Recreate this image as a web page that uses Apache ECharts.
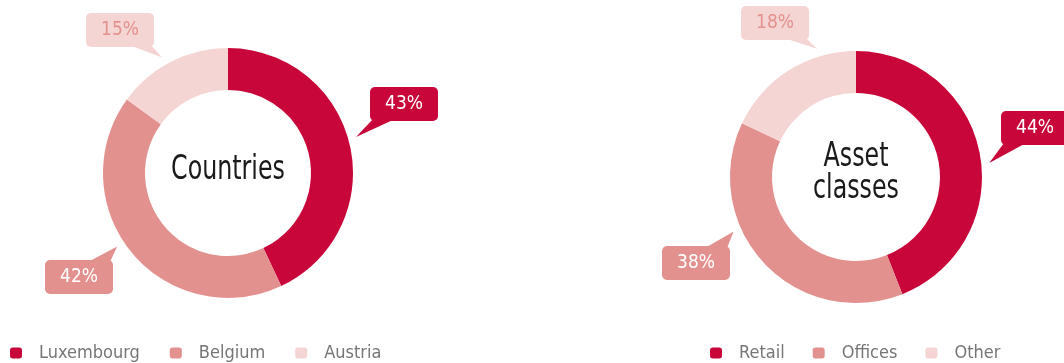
<!DOCTYPE html>
<html>
<head>
<meta charset="utf-8">
<script src="https://cdn.jsdelivr.net/npm/echarts@6/dist/echarts.min.js"></script>
<style>
  html, body { margin: 0; padding: 0; background: #ffffff; }
  #chart { width: 1064px; height: 363px; }
</style>
</head>
<body>
<div id="chart"></div>
<script>
// Portfolio breakdown (% of total)
const countries = ['Luxembourg', 'Belgium', 'Austria'];
const countryShares = [43, 42, 15];
const assetClasses = ['Retail', 'Offices', 'Other'];
const assetShares = [44, 38, 18];

const palette = ['#C8063A', '#E3918E', '#F5D5D3'];
const FONT = "'DejaVu Sans Condensed', 'DejaVu Sans', sans-serif";

// centre of each callout box, per series, in data order
const calloutCentres = [
  [[404, 104], [79, 277], [120, 30]],
  [[1035, 128], [696, 263], [775, 23]]
];
// where along its slice's arc each callout's tail points (0 = start, 1 = end)
const tailAlongArc = [
  [0.48, 0.54, 0.45],
  [0.53, 0.64, 0.74]
];

function sliceData(names, values) {
  return names.map(function (name, i) {
    return {
      name: name,
      value: values[i],
      itemStyle: { color: palette[i] },
      label: {
        backgroundColor: palette[i],
        color: i < 2 ? '#ffffff' : palette[1]
      }
    };
  });
}

function donut(name, centre, radius, names, values) {
  return {
    type: 'pie',
    name: name,
    center: centre,
    radius: radius,
    startAngle: 90,
    clockwise: true,
    silent: true,
    avoidLabelOverlap: false,
    emphasis: { disabled: true },
    label: {
      show: true,
      position: 'outside',
      formatter: '{c}%',
      fontFamily: FONT,
      fontSize: 19,
      lineHeight: 22,
      padding: [6, 15, 6, 15],
      borderRadius: 5
    },
    labelLine: { show: false },
    labelLayout: function (params) {
      const p = calloutCentres[params.seriesIndex][params.dataIndex];
      return { x: p[0], y: p[1], align: 'center', verticalAlign: 'middle' };
    },
    data: sliceData(names, values)
  };
}

const legendText = { fontFamily: FONT, fontSize: 18, color: '#767676', padding: [0, 0, 0, 12] };

const chart = echarts.init(document.getElementById('chart'), null, { renderer: 'canvas' });
chart.setOption({
  animation: false,
  legend: [
    {
      data: countries, left: 10, top: 344, padding: 0, itemGap: 30,
      itemWidth: 12, itemHeight: 11, icon: 'roundRect',
      selectedMode: false, textStyle: legendText
    },
    {
      data: assetClasses, left: 710, top: 344, padding: 0, itemGap: 28,
      itemWidth: 12, itemHeight: 11, icon: 'roundRect',
      selectedMode: false, textStyle: legendText
    }
  ],
  series: [
    donut('Countries', [228, 173], [83, 125], countries, countryShares),
    donut('Asset classes', [856, 177], [84, 126], assetClasses, assetShares)
  ]
});

// Centre captions, narrowed horizontally to a condensed look
const captions = [
  { text: 'Countries', x: 228, y: 170 },
  { text: 'Asset\nclasses', x: 856, y: 173 }
].map(function (c) {
  return {
    type: 'text',
    x: c.x, y: c.y, scaleX: 0.8,
    silent: true,
    style: {
      text: c.text, x: 0, y: 0, align: 'center', verticalAlign: 'middle',
      font: "33px 'DejaVu Sans Condensed', sans-serif", lineHeight: 32, fill: '#1a1a1a'
    }
  };
});

// Speech-bubble tails: a triangle from each callout box towards its slice
const tails = [];
const model = chart.getModel();
[0, 1].forEach(function (si) {
  const data = model.getSeriesByIndex(si).getData();
  data.each(function (idx) {
    const sector = data.getItemGraphicEl(idx);
    const label = sector && sector.getTextContent();
    if (!label) return;
    const s = sector.shape;
    const a = s.startAngle + tailAlongArc[si][idx] * (s.endAngle - s.startAngle);
    const tip = [s.cx + Math.cos(a) * (s.r + 8), s.cy + Math.sin(a) * (s.r + 8)];
    const br = label.getBoundingRect();
    const x0 = label.x + br.x, y0 = label.y + br.y;
    const x1 = x0 + br.width, y1 = y0 + br.height;
    const baseW = 22, inset = 3;
    const bx = tip[0] < (x0 + x1) / 2 ? [x0 + inset, x0 + inset + baseW] : [x1 - inset - baseW, x1 - inset];
    const by = tip[1] > (y0 + y1) / 2 ? y1 - 2 : y0 + 2;
    tails.push({
      type: 'polygon',
      silent: true,
      shape: { points: [[bx[0], by], [bx[1], by], tip] },
      style: { fill: data.getItemVisual(idx, 'style').fill }
    });
  });
});
chart.setOption({ graphic: captions.concat(tails) });
</script>
</body>
</html>
